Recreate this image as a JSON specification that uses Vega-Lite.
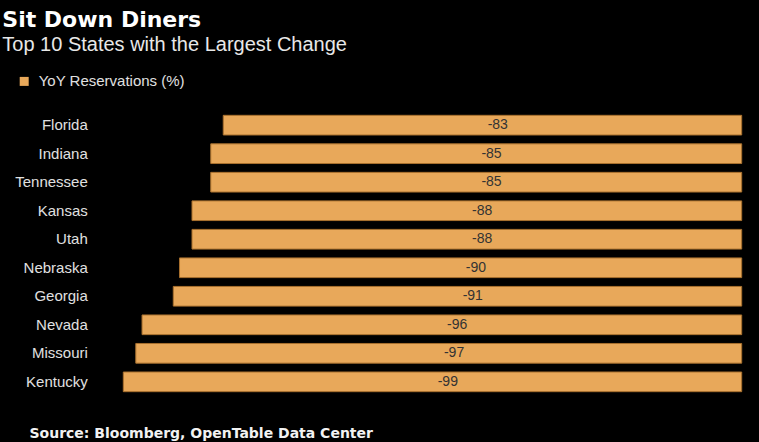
{
  "$schema": "https://vega.github.io/schema/vega-lite/v6.json",
  "width": 618.4,
  "height": 285.2,
  "autosize": "none",
  "padding": {"left": 123.3, "top": 110.9, "right": 17.3, "bottom": 45.9},
  "background": "#000000",
  "config": {
    "view": {"stroke": null},
    "font": "Liberation Sans"
  },
  "title": {
    "text": "Sit Down Diners",
    "subtitle": "Top 10 States with the Largest Change",
    "anchor": "start",
    "frame": "group",
    "dx": -121,
    "offset": 18,
    "font": "DejaVu Sans",
    "fontSize": 22,
    "fontWeight": "bold",
    "color": "#ffffff",
    "subtitleFont": "Liberation Sans",
    "subtitleFontSize": 20,
    "subtitleColor": "#e8e8e8",
    "subtitlePadding": 3
  },
  "data": {
    "values": [
      {"state": "Florida", "value": -83},
      {"state": "Indiana", "value": -85},
      {"state": "Tennessee", "value": -85},
      {"state": "Kansas", "value": -88},
      {"state": "Utah", "value": -88},
      {"state": "Nebraska", "value": -90},
      {"state": "Georgia", "value": -91},
      {"state": "Nevada", "value": -96},
      {"state": "Missouri", "value": -97},
      {"state": "Kentucky", "value": -99}
    ]
  },
  "encoding": {
    "y": {
      "field": "state",
      "type": "nominal",
      "sort": null,
      "scale": {"paddingInner": 0.31, "paddingOuter": 0.155},
      "axis": {
        "title": null,
        "domain": false,
        "ticks": false,
        "labelPadding": 36,
        "labelFont": "Liberation Sans",
        "labelFontSize": 15,
        "labelColor": "#e0e0e0"
      }
    }
  },
  "layer": [
    {
      "mark": {"type": "bar", "stroke": "#a8702e", "strokeWidth": 1},
      "encoding": {
        "x": {
          "field": "value",
          "type": "quantitative",
          "scale": {"domain": [-99, 0], "nice": false},
          "axis": {
            "labels": false,
            "ticks": false,
            "domain": false,
            "grid": false,
            "title": "Source: Bloomberg, OpenTable Data Center",
            "titleFont": "DejaVu Sans",
            "titleFontWeight": "bold",
            "titleFontSize": 14,
            "titleColor": "#f2f2f2",
            "titleAnchor": "start",
            "titleAlign": "left",
            "titleBaseline": "alphabetic",
            "titleX": -94.3,
            "titleY": 40.9
          }
        },
        "color": {
          "datum": "YoY Reservations (%)",
          "type": "nominal",
          "scale": {"range": ["#e8a85a"]},
          "legend": {
            "title": null,
            "orient": "none",
            "legendX": -106.6,
            "legendY": -37,
            "padding": 0,
            "symbolType": "square",
            "symbolSize": 81,
            "symbolStrokeWidth": 0,
            "labelFont": "Liberation Sans",
            "labelFontSize": 15,
            "labelColor": "#e0e0e0",
            "labelOffset": 7
          }
        }
      }
    },
    {
      "mark": {"type": "text", "dx": 15.3, "font": "Liberation Sans", "fontSize": 14, "color": "#333333", "baseline": "middle"},
      "encoding": {
        "x": {
          "field": "value",
          "type": "quantitative",
          "scale": {"domain": [-198, 0], "nice": false},
          "axis": null
        },
        "text": {"field": "value", "type": "nominal"}
      }
    }
  ],
  "resolve": {"scale": {"x": "independent"}}
}
